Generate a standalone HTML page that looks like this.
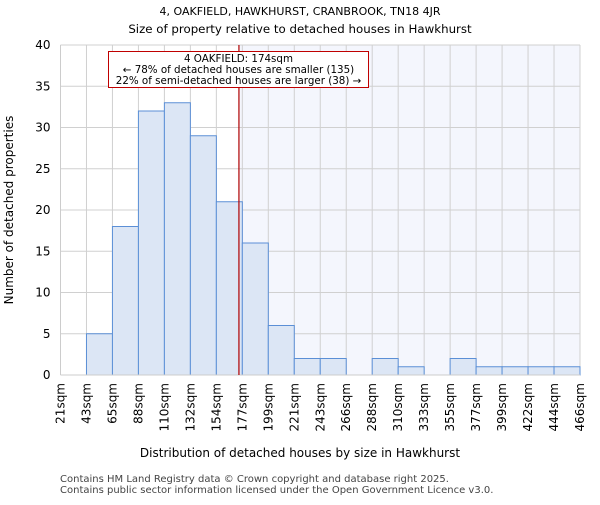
<!DOCTYPE html>
<html><head><meta charset="utf-8"><style>body{margin:0;background:#fff}svg{font-family:"DejaVu Sans","Liberation Sans",sans-serif}</style></head>
<body>
<svg id="chart" width="600" height="500" xmlns="http://www.w3.org/2000/svg">
<text x="300" y="15" font-size="11" text-anchor="middle">4, OAKFIELD, HAWKHURST, CRANBROOK, TN18 4JR</text>
<text x="300" y="33" font-size="11.8" text-anchor="middle">Size of property relative to detached houses in Hawkhurst</text>
<g id="plot"></g>
<text x="300" y="457" font-size="12" text-anchor="middle">Distribution of detached houses by size in Hawkhurst</text>
<text transform="translate(13,210) rotate(-90)" font-size="12" text-anchor="middle">Number of detached properties</text>
<text x="60" y="482" font-size="10" fill="#444">Contains HM Land Registry data © Crown copyright and database right 2025.</text>
<text x="60" y="493" font-size="10" fill="#444">Contains public sector information licensed under the Open Government Licence v3.0.</text>
</svg>
<script>
const binLabels=["21sqm","43sqm","65sqm","88sqm","110sqm","132sqm","154sqm","177sqm","199sqm","221sqm","243sqm","266sqm","288sqm","310sqm","333sqm","355sqm","377sqm","399sqm","422sqm","444sqm","466sqm"];
const counts=[0,5,18,32,33,29,21,16,6,2,2,0,2,1,0,2,1,1,1,1];
const yTicks=[0,5,10,15,20,25,30,35,40];
const propertySize=174;
const NS="http://www.w3.org/2000/svg";
const g=document.getElementById('plot');
const X0=60.5,X1=580,Y0=375,Y1=45,YMAX=40;
const bw=(X1-X0)/counts.length;
const y=v=>Y0-(v/YMAX)*(Y0-Y1);
const xi=i=>X0+i*bw;
function mk(t,a){const e=document.createElementNS(NS,t);for(const k in a)e.setAttribute(k,a[k]);g.appendChild(e);return e;}
let pi=0;const nums=binLabels.map(s=>parseFloat(s));
for(let i=0;i<nums.length-1;i++){if(propertySize>=nums[i]&&propertySize<nums[i+1])pi=i+(propertySize-nums[i])/(nums[i+1]-nums[i]);}
const px=xi(pi);
let sh=mk('rect',{x:px,y:Y1,width:X1-px,height:Y0-Y1,fill:'#f4f6fd'});


yTicks.forEach(t=>{let l=mk('line',{x1:X0,x2:X1,y1:y(t),y2:y(t),stroke:'#d0d0d0'});


let tx=mk('text',{x:X0-10,y:y(t)+4,'font-size':12,'text-anchor':'end'});tx.textContent=t;

});
binLabels.forEach((s,i)=>{let l=mk('line',{x1:xi(i),x2:xi(i),y1:Y1,y2:Y0,stroke:'#d0d0d0'});


let tx=mk('text',{transform:`translate(${xi(i)+4},${Y0+8}) rotate(-90)`,'font-size':12,'text-anchor':'end'});tx.textContent=s;

});
counts.forEach((c,i)=>{if(!c)return;let r=mk('rect',{x:xi(i),y:y(c),width:bw,height:Y0-y(c),fill:'#dce6f5',stroke:'#5b8fd6','stroke-width':1});

});
let ax=mk('line',{x1:X0,x2:X1,y1:Y0,y2:Y0,stroke:'#ccc'});


let ay=mk('line',{x1:X0,x2:X0,y1:Y1,y2:Y0,stroke:'#ccc'});


let pl=mk('line',{x1:px,x2:px,y1:Y1,y2:Y0,stroke:'#b00000','stroke-width':1.2});


let bx=mk('rect',{x:108.5,y:51.5,width:260,height:36,fill:'#fff',stroke:'#c00000'});


["4 OAKFIELD: 174sqm","← 78% of detached houses are smaller (135)","22% of semi-detached houses are larger (38) →"].forEach((s,i)=>{
let t=mk('text',{x:238.5,y:62+i*11,'font-size':10.3,'text-anchor':'middle'});t.textContent=s;

});
</script>
</body></html>
